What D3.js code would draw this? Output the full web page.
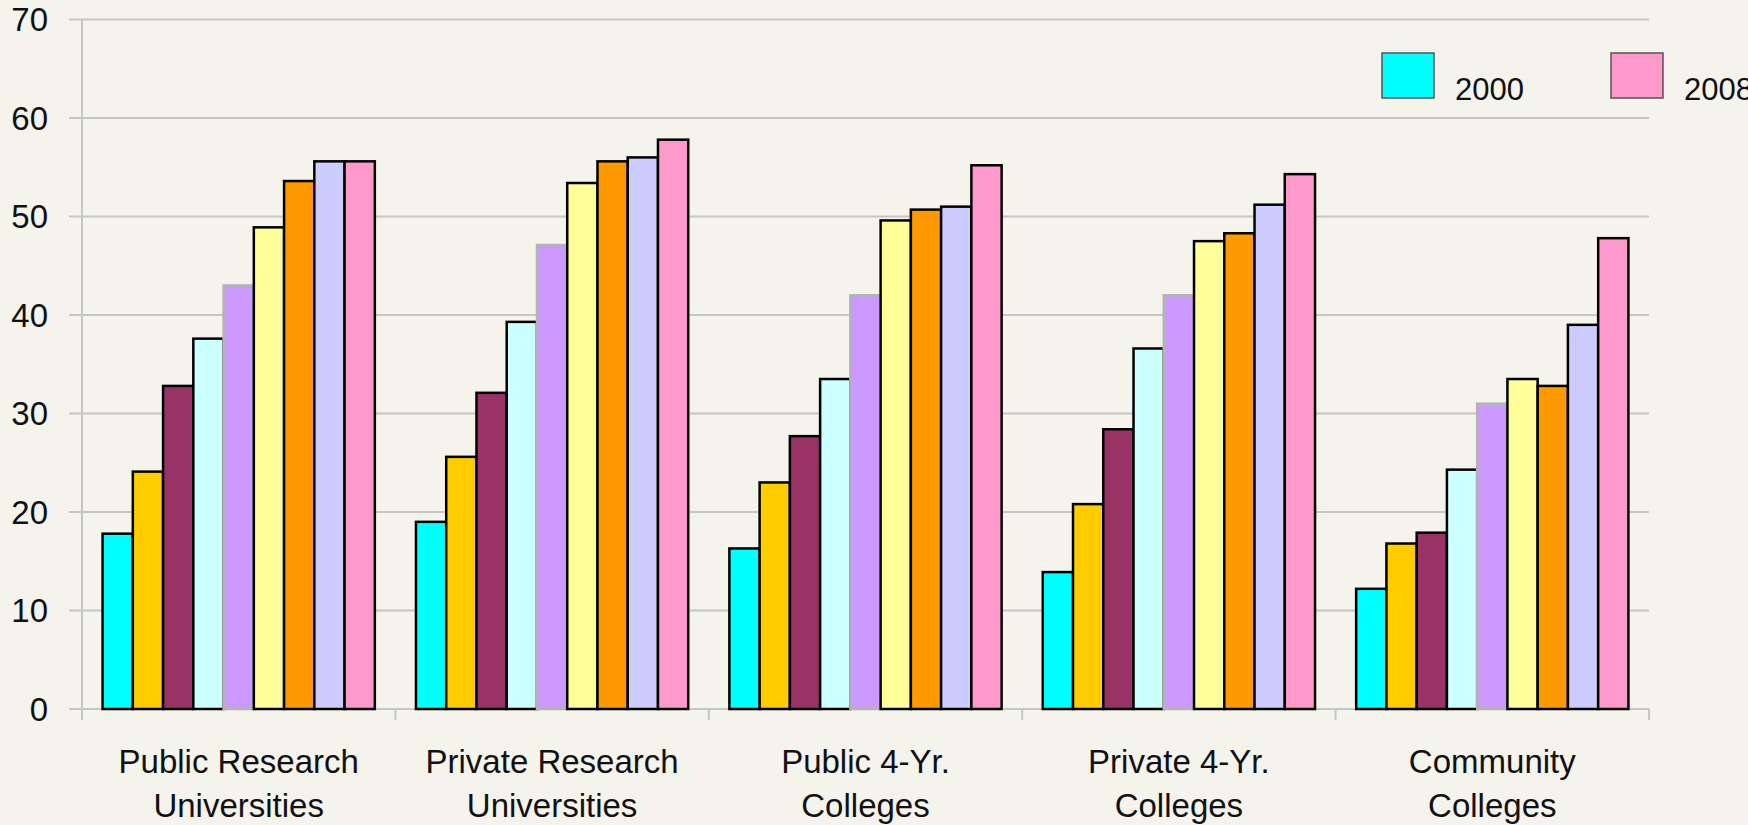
<!DOCTYPE html>
<html>
<head>
<meta charset="utf-8">
<script src="https://cdn.jsdelivr.net/npm/d3@7.9.0/dist/d3.min.js"></script>
<style>
  html, body { margin: 0; padding: 0; background: #f4f3ec; }
  svg { display: block; }
  text { font-family: "Liberation Sans", Arial, sans-serif; fill: #111; }
</style>
</head>
<body>
<svg id="chart" width="1748" height="825"></svg>
<script>
// Data
const categories = [
    ['Public Research', 'Universities'],
    ['Private Research', 'Universities'],
    ['Public 4-Yr.', 'Colleges'],
    ['Private 4-Yr.', 'Colleges'],
    ['Community', 'Colleges']
];
const years = ['2000', '2001', '2002', '2003', '2004', '2005', '2006', '2007', '2008'];
// one row per category, one value per year
const publicResearch  = [17.8, 24.1, 32.8, 37.6, 43.0, 48.9, 53.6, 55.6, 55.6];
const privateResearch = [19.0, 25.6, 32.1, 39.3, 47.1, 53.4, 55.6, 56.0, 57.8];
const public4yr       = [16.3, 23.0, 27.7, 33.5, 42.0, 49.6, 50.7, 51.0, 55.2];
const private4yr      = [13.9, 20.8, 28.4, 36.6, 42.0, 47.5, 48.3, 51.2, 54.3];
const community       = [12.2, 16.8, 17.9, 24.3, 31.0, 33.5, 32.8, 39.0, 47.8];
const values = [publicResearch, privateResearch, public4yr, private4yr, community];
const yTicks = [0, 10, 20, 30, 40, 50, 60, 70];
const legendYears = ['2000', '2008'];

const colors = ['#00ffff', '#ffcc00', '#993366', '#ccffff', '#cc99ff',
                '#ffff99', '#ff9900', '#ccccff', '#ff99cc'];

const svg = d3.select('#chart');
const plotLeft = 82, plotRight = 1649, plotTop = 19.5, plotBottom = 709;

const x0 = d3.scaleBand()
    .domain(categories.map((_, i) => i))
    .range([plotLeft, plotRight])
    .padding(0);

const x1 = d3.scaleBand()
    .domain(years)
    .range([0, x0.bandwidth()])
    .paddingInner(0)
    .paddingOuter(0.68);

const y = d3.scaleLinear()
    .domain([0, 70])
    .range([plotBottom, plotTop]);

// Gridlines
svg.append('g')
    .selectAll('line')
    .data(yTicks)
    .join('line')
    .attr('x1', plotLeft - 13)
    .attr('x2', plotRight)
    .attr('y1', d => y(d))
    .attr('y2', d => y(d))
    .attr('stroke', '#c6c6c6')
    .attr('stroke-width', 2);

// Y axis line
svg.append('line')
    .attr('x1', plotLeft).attr('x2', plotLeft)
    .attr('y1', plotTop).attr('y2', plotBottom + 11)
    .attr('stroke', '#c6c6c6')
    .attr('stroke-width', 2);

// Category ticks below x axis
svg.append('g')
    .selectAll('line')
    .data(d3.range(categories.length + 1))
    .join('line')
    .attr('x1', i => i < categories.length ? x0(i) : plotRight)
    .attr('x2', i => i < categories.length ? x0(i) : plotRight)
    .attr('y1', plotBottom)
    .attr('y2', plotBottom + 11)
    .attr('stroke', '#c6c6c6')
    .attr('stroke-width', 2);

// Y tick labels
svg.append('g')
    .selectAll('text')
    .data(yTicks)
    .join('text')
    .attr('x', 48)
    .attr('y', d => y(d))
    .attr('dy', '0.36em')
    .attr('text-anchor', 'end')
    .attr('font-size', 33)
    .text(d => d);

// Bars
const groups = svg.append('g')
    .selectAll('g')
    .data(values)
    .join('g')
    .attr('transform', (_, i) => `translate(${x0(i)},0)`);

groups.selectAll('rect')
    .data(row => row.map((v, j) => ({ year: years[j], value: v, j })))
    .join('rect')
    .attr('x', d => x1(d.year))
    .attr('y', d => y(d.value))
    .attr('width', x1.bandwidth())
    .attr('height', d => y(0) - y(d.value))
    .attr('fill', d => colors[d.j])
    .attr('stroke', d => d.j === 4 ? '#b4b4b4' : '#000')
    .attr('stroke-width', 2.5);

// Category labels
const labels = svg.append('g')
    .selectAll('text')
    .data(categories)
    .join('text')
    .attr('x', (_, i) => x0(i) + x0.bandwidth() / 2)
    .attr('y', 773)
    .attr('text-anchor', 'middle')
    .attr('font-size', 33);

labels.selectAll('tspan')
    .data(d => d)
    .join('tspan')
    .attr('x', function () { return this.parentNode.getAttribute('x'); })
    .attr('dy', (_, k) => k === 0 ? 0 : 44)
    .text(d => d);

// Legend (only the first and last entries fit in the frame, as in the source)
const legend = svg.append('g')
    .selectAll('g')
    .data(legendYears)
    .join('g')
    .attr('transform', (_, i) => `translate(${1382 + i * 229},53)`);

legend.append('rect')
    .attr('width', 52)
    .attr('height', 45)
    .attr('fill', d => colors[years.indexOf(d)])
    .attr('stroke', '#555')
    .attr('stroke-width', 1.5);

legend.append('text')
    .attr('x', 73)
    .attr('y', 47)
    .attr('font-size', 31)
    .text(d => d);
</script>
</body>
</html>
